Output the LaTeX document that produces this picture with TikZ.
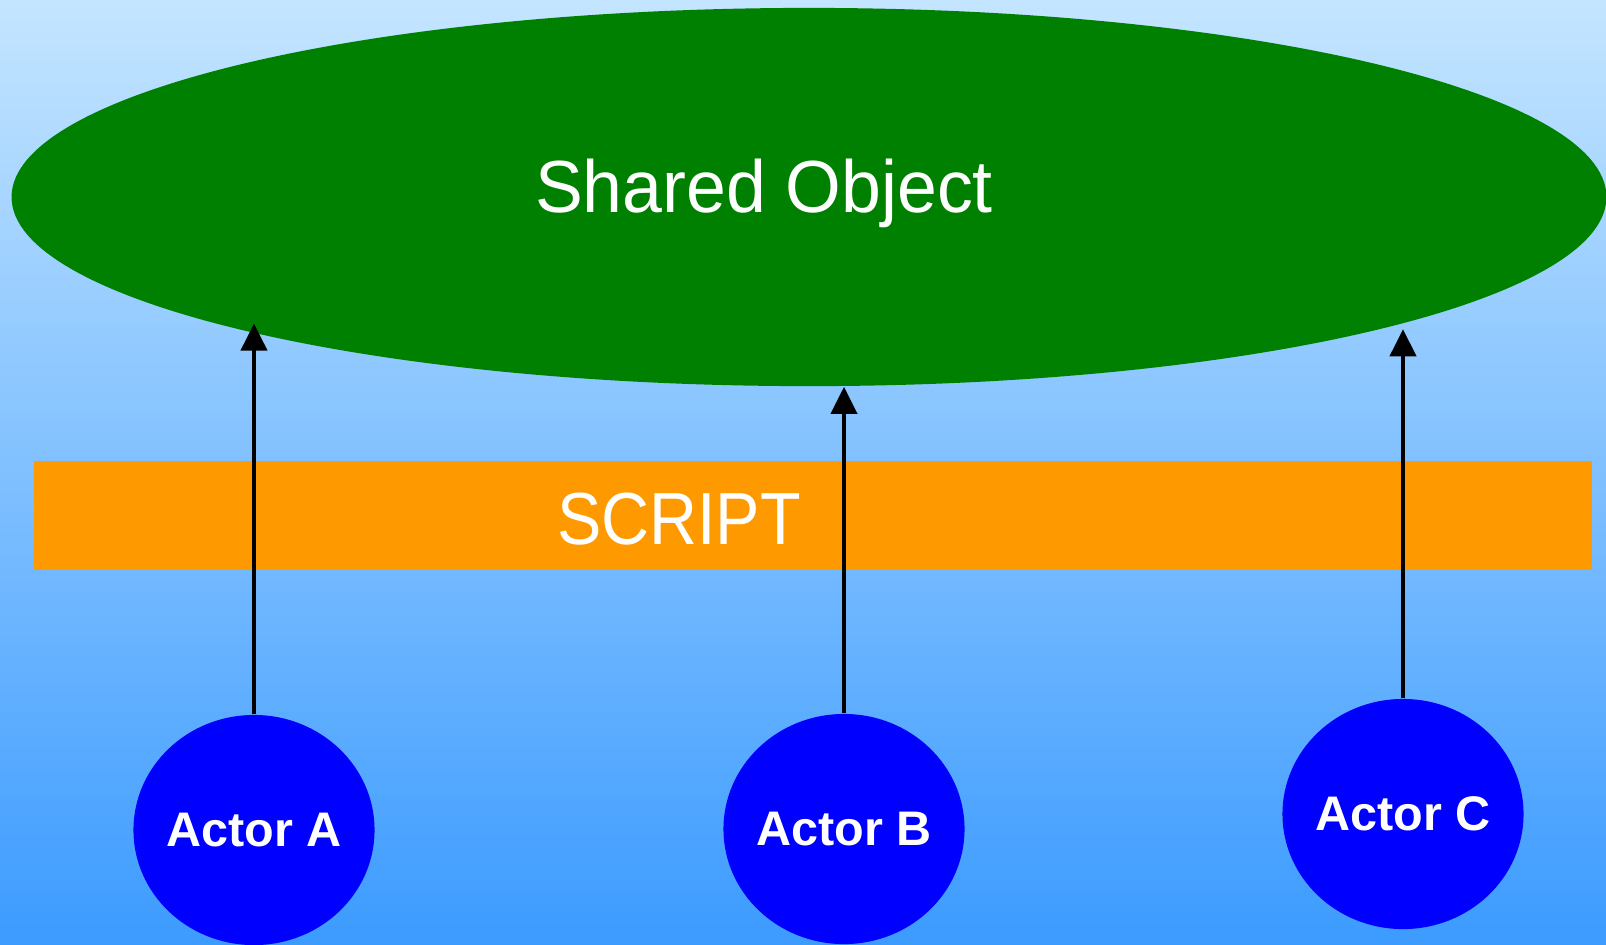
\documentclass[tikz,border=0pt]{standalone}
\usepackage{fontspec}
\setmainfont{Liberation Sans}
\newfontfamily\objfont{Liberation Sans}[FakeStretch=0.97]
\newfontfamily\barfont{Liberation Sans}[FakeStretch=0.9]
\usepackage{xcolor}
\usepackage{tikz}
\usetikzlibrary{shapes,arrows.meta,positioning,calc}

\definecolor{skytop}{RGB}{196,229,255}
\definecolor{skybottom}{RGB}{60,155,255}
\definecolor{objgreen}{RGB}{0,128,0}
\definecolor{scriptorange}{RGB}{255,153,0}
\definecolor{actorblue}{RGB}{0,0,255}

\begin{document}
\begin{tikzpicture}[x=0.01cm, y=-0.01cm,
    actor/.style={draw=none, ellipse, fill=actorblue, inner sep=-1.5pt, minimum width=2.41cm, minimum height=2.30cm, text=white, font=\fontsize{13.8}{16}\selectfont\bfseries},
    bigtext/.style={text=white, inner sep=0pt, anchor=base},
    link/.style={line width=1.15pt, -{Triangle[width=7.4pt,length=7.7pt]}}]
    % background
    \useasboundingbox (0,0) rectangle (1606,944);
    \shade[top color=skytop, bottom color=skybottom] (0,0) rectangle (1606,944);
    % shared object and script bar
    \node[draw=none, ellipse, fill=objgreen, inner sep=0pt, minimum width=15.94cm, minimum height=3.78cm] (obj) at (809,197) {};
    \node[bigtext, font=\objfont\fontsize{21}{25}\selectfont] (objtxt) at (764,212) {Shared Object};
    \node[draw=none, rectangle, fill=scriptorange, inner sep=0pt, minimum width=15.58cm, minimum height=1.09cm] (script) at (813,515.5) {};
    \node[bigtext, font=\barfont\fontsize{21}{25}\selectfont] (scripttxt) at (679,544) {SCRIPT};
    % actors
    \node[actor] (actA) at (254,830) {Actor A};
    \node[actor] (actB) at (844,829) {Actor B};
    \node[actor] (actC) at (1403,814) {Actor C};
    \draw[link] (actA.north) -- (actA.north |- obj.192.5);
    \draw[link] (actB.north) -- (actB.north |- obj.south);
    \draw[link] (actC.north) -- (actC.north |- obj.347.3);
\end{tikzpicture}
\end{document}
